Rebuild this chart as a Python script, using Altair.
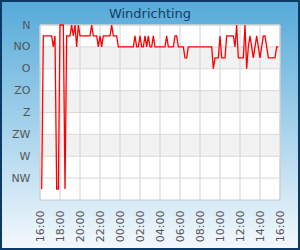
import altair as alt
import pandas as pd

TITLE = "Windrichting"
directions = ["N", "NO", "O", "ZO", "Z", "ZW", "W", "NW"]
direction_degrees = [0, 45, 90, 135, 180, 225, 270, 315]

# wind direction in degrees, every 10 minutes from 16:10 to 15:50 next day
degrees = (
    [337.5] + [22.5] * 6 + [45, 22.5, 337.5, 337.5, 0, 0, 0, 337.5]
    + [22.5] * 3 + [0, 22.5, 0, 45, 0] + [22.5] * 7 + [0] + [22.5] * 3
    + [45, 22.5, 45] + [22.5] * 5 + [0] + [22.5] * 3 + [45] * 10
    + [22.5, 45, 45, 22.5, 45, 45, 22.5, 45, 22.5, 45, 45, 22.5]
    + [45] * 7 + [22.5] + [45] * 4 + [22.5, 22.5] + [45] * 4 + [67.5, 67.5]
    + [45] * 15 + [90] + [67.5] * 3 + [22.5] + [67.5] * 3 + [22.5] * 5
    + [45, 0] + [67.5] * 4 + [0, 90, 45, 22.5, 45, 67.5, 45, 22.5, 45, 67.5, 45, 22.5, 22.5, 45]
    + [67.5] * 5 + [45, 45]
)
first_time = "2024-05-01 16:10"

band_from = [45, 135, 225]
band_to = [90, 180, 270]

axis_start = "2024-05-01 16:00"
axis_hours = 24
tick_step_hours = 2

W, H = 240, 175

times = pd.date_range(first_time, periods=len(degrees), freq="10min")
line_df = pd.DataFrame({"t": times.strftime("%Y-%m-%dT%H:%M:%S"), "deg": degrees})

grid_times = pd.date_range(axis_start, periods=axis_hours // tick_step_hours + 1,
                           freq=f"{tick_step_hours}h")
grid_df = pd.DataFrame({"t": grid_times.strftime("%Y-%m-%dT%H:%M:%S")})
hgrid_df = pd.DataFrame({"deg": direction_degrees})
band_df = pd.DataFrame({"a": band_from, "b": band_to})

axis_values = [alt.DateTime(year=t.year, month=t.month, date=t.day, hours=t.hour, minutes=0)
               for t in grid_times]
dom_start = grid_times[0]
dom_end = grid_times[-1]
x_scale = alt.Scale(domain=[
    alt.DateTime(year=dom_start.year, month=dom_start.month, date=dom_start.day, hours=dom_start.hour),
    alt.DateTime(year=dom_end.year, month=dom_end.month, date=dom_end.day, hours=dom_end.hour),
])
y_scale = alt.Scale(domain=[0, 360], reverse=True, nice=False, zero=False)

label_expr = " : ".join(
    f"datum.value == {d} ? '{n}'" for d, n in zip(direction_degrees, directions)
) + " : ''"

font = "DejaVu Sans"

x_axis = alt.Axis(values=axis_values, format="%H:%M", labelAngle=270,
                  labelOverlap=False, labelFlush=False, grid=False, ticks=False,
                  domain=False, labelPadding=10, labelFontSize=11,
                  labelColor="#555555", labelFont=font, zindex=1)
y_axis = alt.Axis(values=direction_degrees, labelExpr=label_expr, grid=False,
                  labelOverlap=False, labelFlush=False,
                  ticks=False, domain=False, labelPadding=10, labelFontSize=11,
                  labelColor="#555555", labelFont=font, zindex=1)

bg = alt.Chart(alt.Data(values=[{}])).mark_rect(
    fill=alt.Gradient(
        gradient="linear",
        stops=[alt.GradientStop(color="#55aad9", offset=0),
               alt.GradientStop(color="#f4f9fd", offset=1)],
        x1=0, x2=0, y1=0, y2=1,
    ),
    stroke="#0b3a66", strokeWidth=2,
).encode(x=alt.value(-39), x2=alt.value(W + 19), y=alt.value(-24), y2=alt.value(H + 49))

plot_bg = alt.Chart(alt.Data(values=[{}])).mark_rect(
    fill="white", stroke="#cccccc", strokeWidth=1
).encode(x=alt.value(0), x2=alt.value(W), y=alt.value(0), y2=alt.value(H))

bands = alt.Chart(band_df).mark_rect(fill="#f2f2f2").encode(
    x=alt.value(0), x2=alt.value(W),
    y=alt.Y("a:Q", scale=y_scale, axis=y_axis, title=None), y2="b:Q",
)

vgrid = alt.Chart(grid_df).mark_rule(color="#d0d0d0", strokeWidth=1).encode(
    x=alt.X("t:T", scale=x_scale, axis=x_axis, title=None)
)
hgrid = alt.Chart(hgrid_df).mark_rule(color="#d8d8d8", strokeWidth=1).encode(
    y=alt.Y("deg:Q", scale=y_scale, axis=y_axis, title=None)
)

line = alt.Chart(line_df).mark_line(color="#ff0000", strokeWidth=1.3).encode(
    x=alt.X("t:T", scale=x_scale, title=None, axis=x_axis),
    y=alt.Y("deg:Q", scale=y_scale, title=None, axis=y_axis),
)

chart = alt.layer(bg, plot_bg, bands, vgrid, hgrid, line).properties(
    width=W, height=H,
    title=alt.TitleParams(TITLE, font=font, fontSize=13, fontWeight="normal",
                          color="#153d63", anchor="middle", dx=-10, offset=-21,
                          zindex=1),
    autosize=alt.AutoSizeParams(type="none"),
    padding={"left": 40, "top": 25, "right": 20, "bottom": 50},
).configure_view(strokeWidth=0)

chart.save("out.html", embed_options={"renderer": "svg", "actions": False})
